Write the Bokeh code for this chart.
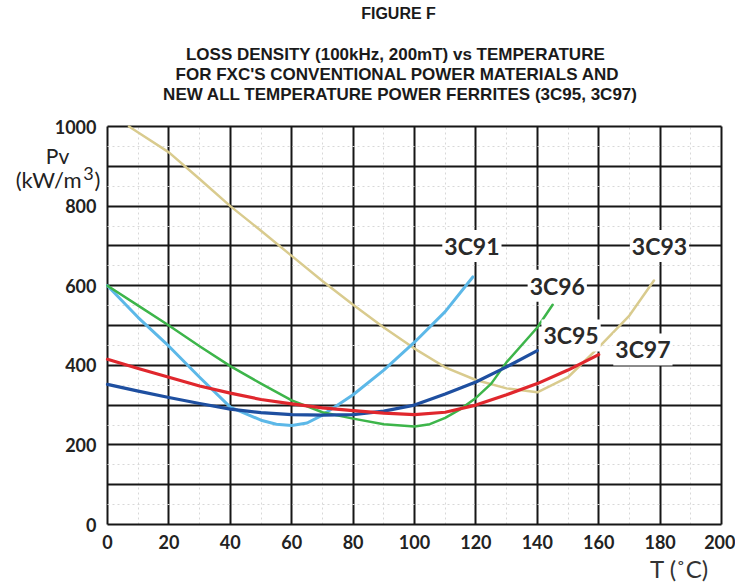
from bokeh.plotting import figure
from bokeh.models import Range1d, FixedTicker, Label
from bokeh.embed import file_html
from bokeh.resources import INLINE

# ---- data ----
x_3c93 = [7, 10, 20, 30, 40, 50, 60, 70, 80, 90, 100, 110, 120, 130, 140, 150, 160, 170, 178]
y_3c93 = [1000, 985, 935, 868, 800, 738, 675, 612, 552, 495, 442, 395, 363, 342, 332, 370, 445, 525, 613]

x_3c91 = [0, 10, 20, 30, 40, 50, 55, 60, 65, 70, 75, 80, 90, 100, 110, 119]
y_3c91 = [600, 520, 448, 370, 295, 262, 252, 249, 255, 275, 300, 326, 388, 458, 535, 622]

x_3c96 = [0, 10, 20, 30, 40, 50, 60, 70, 80, 90, 100, 105, 110, 115, 120, 125, 130, 140, 145]
y_3c96 = [600, 550, 500, 448, 398, 354, 312, 282, 266, 252, 246, 252, 268, 290, 318, 354, 408, 495, 552]

x_3c95 = [0, 10, 20, 30, 40, 50, 60, 70, 80, 90, 100, 110, 120, 130, 140]
y_3c95 = [352, 335, 319, 304, 290, 281, 276, 275, 276, 285, 300, 328, 358, 396, 437]

x_3c97 = [0, 10, 20, 30, 40, 50, 60, 70, 80, 90, 100, 110, 120, 130, 140, 150, 160]
y_3c97 = [415, 392, 370, 348, 330, 314, 303, 293, 286, 280, 276, 282, 300, 326, 354, 388, 427]

x_ticks = [0, 20, 40, 60, 80, 100, 120, 140, 160, 180, 200]
x_minor = [10, 30, 50, 70, 90, 110, 130, 150, 170, 190]
y_label_ticks = [0, 200, 400, 600, 800, 1000]
y_grid_ticks = [0, 100, 200, 300, 400, 500, 600, 700, 800, 900, 1000]
y_minor = [50, 150, 250, 350, 450, 550, 650, 750, 850, 950]

title_lines = [
    "LOSS DENSITY (100kHz, 200mT) vs TEMPERATURE",
    "FOR FXC'S CONVENTIONAL POWER MATERIALS AND",
    "NEW ALL TEMPERATURE POWER FERRITES (3C95, 3C97)",
]

series = [
    ("3C93", x_3c93, y_3c93, "#d9cb8e", 2.5, (179.8, 700)),
    ("3C91", x_3c91, y_3c91, "#5cb8e8", 3, (118.7, 700)),
    ("3C96", x_3c96, y_3c96, "#3db54a", 2.5, (146.5, 600)),
    ("3C95", x_3c95, y_3c95, "#1e4fa0", 3.2, (151, 475)),
    ("3C97", x_3c97, y_3c97, "#e0272d", 3.2, (174.4, 440)),
]

# ---- layout: the frame covers the whole canvas; chart area is x 0..200, y 0..1000 ----
W, H = 735, 586
LEFT, RIGHT, TOP, BOTTOM = 107, 721, 126, 524   # chart area in canvas pixels
sx = (RIGHT - LEFT) / 200.0
sy = (BOTTOM - TOP) / 1000.0
x_rng = Range1d(-LEFT / sx, 200 + (W - RIGHT) / sx)
y_rng = Range1d(-(H - BOTTOM) / sy, 1000 + TOP / sy)

def dx(px):
    return (px - LEFT) / sx

def dy(py):
    return 1000 - (py - TOP) / sy

p = figure(width=W, height=H, output_backend="svg", toolbar_location=None,
           x_range=x_rng, y_range=y_rng, min_border=0,
           min_border_left=0, min_border_right=0, min_border_top=0, min_border_bottom=0)
p.outline_line_color = None

# axes (pinned at the chart edges)
p.xaxis.fixed_location = 0
p.yaxis.fixed_location = 0
p.xaxis.ticker = FixedTicker(ticks=x_ticks)
p.yaxis.ticker = FixedTicker(ticks=y_label_ticks)
for ax in (p.xaxis, p.yaxis):
    ax.axis_line_color = None
    ax.major_tick_line_color = None
    ax.minor_tick_line_color = None
    ax.major_label_text_font = "Lato"
    ax.major_label_text_font_style = "bold"
    ax.major_label_text_font_size = "18px"
    ax.major_label_text_color = "#222222"
p.xaxis.major_label_standoff = 4
p.yaxis.major_label_standoff = 5

# grids limited to the chart area
p.xgrid.ticker = FixedTicker(ticks=x_ticks, minor_ticks=x_minor)
p.ygrid.ticker = FixedTicker(ticks=y_grid_ticks, minor_ticks=y_minor)
p.xgrid.cross_bounds = (0, 1000)
p.ygrid.cross_bounds = (0, 200)
for g in (p.xgrid, p.ygrid):
    g.grid_line_color = "#161616"
    g.grid_line_width = 2
    g.grid_line_alpha = 1
    g.minor_grid_line_color = "#d8d8d8"
    g.minor_grid_line_dash = "2 3"
    g.minor_grid_line_width = 1

# curves
for name, xs, ys, col, lw, _ in series:
    p.line(xs, ys, line_color=col, line_width=lw, line_join="round", line_cap="round")

# curve labels
for name, xs, ys, col, lw, (lx, ly) in series:
    p.add_layout(Label(x=lx, y=ly, text=name, text_align="center", text_baseline="middle",
                       text_font="Lato", text_font_style="bold", text_font_size="23px",
                       text_color="#2a2a2a", background_fill_color="white",
                       padding=2))

# title
p.add_layout(Label(x=dx(398), y=dy(13), text="FIGURE F", text_align="center",
                   text_baseline="middle", text_font="Liberation Sans",
                   text_font_style="bold", text_font_size="16px", text_color="#1a1a1a"))
for i, (px, py) in enumerate([(395, 54), (397, 74), (400, 94)]):
    p.add_layout(Label(x=dx(px), y=dy(py), text=title_lines[i], text_align="center",
                       text_baseline="middle", text_font="Liberation Sans",
                       text_font_style="bold", text_font_size="17px", text_color="#1a1a1a"))

# axis titles
axis_font = dict(text_font="Lato", text_color="#222222", text_baseline="middle")
p.add_layout(Label(x=dx(57), y=dy(155), text="Pv", text_align="center",
                   text_font_size="21px", **axis_font))
p.add_layout(Label(x=dx(81), y=dy(179), text="(kW/m", text_align="right",
                   text_font_size="22px", **axis_font))
p.add_layout(Label(x=dx(88), y=dy(173), text="3", text_align="center",
                   text_font_size="18px", **axis_font))
p.add_layout(Label(x=dx(94), y=dy(179), text=")", text_align="left",
                   text_font_size="22px", **axis_font))
p.add_layout(Label(x=dx(682), y=dy(568), text="T  (˚C)", text_align="center",
                   text_font_size="24px", text_font="Lato", text_color="#333333",
                   text_baseline="middle"))

open("out.html", "w").write(file_html(p, INLINE))
